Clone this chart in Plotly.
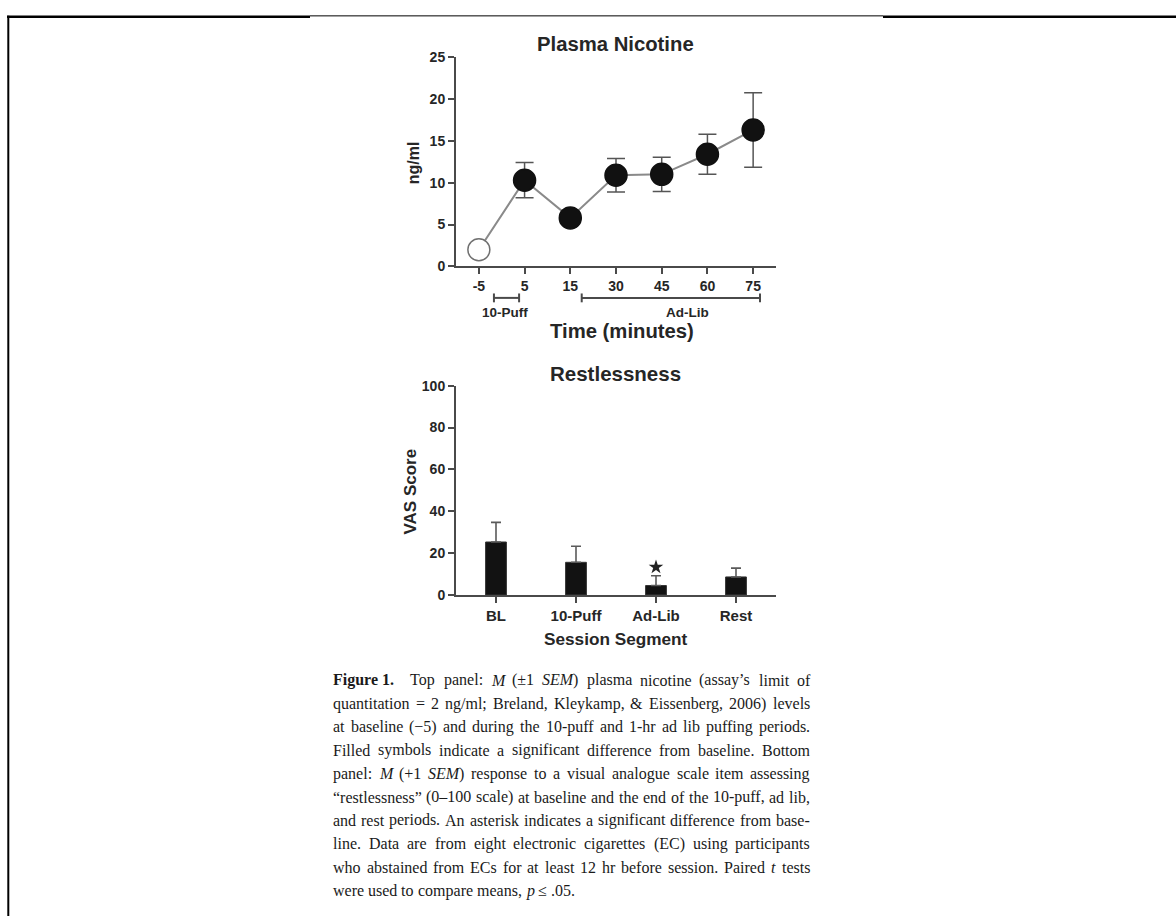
import re
import plotly.graph_objects as go

# ---------------- data ----------------
time_labels = ["-5", "5", "15", "30", "45", "60", "75"]
nicotine_mean = [2.0, 10.3, 5.8, 10.9, 11.0, 13.4, 16.3]
nicotine_sem = [0.0, 2.1, 0.5, 2.0, 2.05, 2.4, 4.45]
nicotine_signif = [False, True, True, True, True, True, True]

period_names = ["10-Puff", "Ad-Lib"]
period_start = [0.33, 2.25]   # in time-axis category units
period_end = [0.88, 6.15]

segments = ["BL", "10-Puff", "Ad-Lib", "Rest"]
vas_mean = [25.3, 15.6, 4.5, 8.6]
vas_sem = [9.4, 7.7, 4.7, 4.2]
vas_signif = [False, False, True, False]

caption_lines = [
    "<b>Figure\u00a01.</b>\u2003Top panel: <i>M</i> (±1 <i>SEM</i>) plasma nicotine (assay’s limit of",
    "quantitation = 2 ng/ml; Breland, Kleykamp, & Eissenberg, 2006) levels",
    "at baseline (−5) and during the 10-puff and 1-hr ad lib puffing periods.",
    "Filled symbols indicate a significant difference from baseline. Bottom",
    "panel: <i>M</i> (+1 <i>SEM</i>) response to a visual analogue scale item assessing",
    "“restlessness” (0–100 scale) at baseline and the end of the 10-puff, ad lib,",
    "and rest periods. An asterisk indicates a significant difference from base-",
    "line. Data are from eight electronic cigarettes (EC) using participants",
    "who abstained from ECs for at least 12 hr before session. Paired <i>t</i> tests",
    "were used to compare means, <i>p</i> ≤ .05.",
]

# ---------------- layout helpers ----------------
W, H = 1176, 924


def px(x):
    return x / W


def py(y):
    return 1 - y / H


SANS = "Liberation Sans, Arial, sans-serif"
SERIF = "Liberation Serif, Times New Roman, serif"
TXT = "#262626"
AX = "#4a4a4a"

fig = go.Figure()

# top panel: line + error bars
fig.add_trace(go.Scatter(
    x=time_labels, y=nicotine_mean, mode="lines",
    line=dict(color="#8a8a8a", width=2),
    error_y=dict(type="data", array=nicotine_sem, visible=True,
                 color="#555555", thickness=1.5, width=9),
    xaxis="x", yaxis="y", hoverinfo="skip",
))
fig.add_trace(go.Scatter(
    x=time_labels, y=nicotine_mean, mode="markers",
    marker=dict(size=22,
                color=["#111111" if s else "#ffffff" for s in nicotine_signif],
                line=dict(color=["#111111" if s else "#707070" for s in nicotine_signif],
                          width=1.5)),
    xaxis="x", yaxis="y",
))

# bottom panel: bars
fig.add_trace(go.Bar(
    x=segments, y=vas_mean, width=0.26,
    marker=dict(color="#121212", line=dict(color="#333333", width=1)),
    error_y=dict(type="data", symmetric=False, array=vas_sem,
                 arrayminus=[0] * len(vas_sem), visible=True,
                 color="#5a5a5a", thickness=1.6, width=5),
    xaxis="x2", yaxis="y2",
))
star_x = [s for s, f in zip(segments, vas_signif) if f]
star_y = [m + e + 4.1 for m, e, f in zip(vas_mean, vas_sem, vas_signif) if f]
fig.add_trace(go.Scatter(
    x=star_x, y=star_y, mode="markers",
    marker=dict(symbol="star", size=11, color="#222222"),
    xaxis="x2", yaxis="y2",
))

axis_common = dict(
    showline=True, linecolor=AX, linewidth=2, mirror=False,
    ticks="outside", ticklen=6, tickwidth=2, tickcolor=AX,
    showgrid=False, zeroline=False,
    tickfont=dict(family=SANS, size=14, color=TXT, weight="bold"),
)

fig.update_layout(
    width=W, height=H,
    margin=dict(l=0, r=0, t=0, b=0),
    paper_bgcolor="white", plot_bgcolor="white",
    showlegend=False,
    xaxis=dict(domain=[px(456), px(776)], anchor="y", type="category",
               categoryorder="array", categoryarray=time_labels,
               range=[-0.5, len(time_labels) - 0.5], **axis_common),
    yaxis=dict(domain=[py(263), py(50)], anchor="x", range=[0, 25],
               tickvals=[0, 5, 10, 15, 20, 25], **axis_common),
    xaxis2=dict(domain=[px(456), px(776)], anchor="y2", type="category",
                categoryorder="array", categoryarray=segments,
                range=[-0.5, len(segments) - 0.5], **axis_common),
    yaxis2=dict(domain=[py(597.3), py(384.3)], anchor="x2", range=[0, 100],
                tickvals=[0, 20, 40, 60, 80, 100], **axis_common),
)
fig.layout.xaxis2.tickfont.size = 15

annotations = []


def label(text, x, y, size, rot=0, bold=True, xanchor="center", family=SANS):
    annotations.append(dict(
        text=text, x=px(x), y=py(y), xref="paper", yref="paper",
        xanchor=xanchor, yanchor="middle", showarrow=False, textangle=rot,
        font=dict(family=family, size=size, color=TXT,
                  weight="bold" if bold else "normal"),
    ))


label("Plasma Nicotine", 615, 37, 20.3)
label("ng/ml", 413, 157, 16, rot=-90)
label("Time (minutes)", 622, 329, 20.3)
label("Restlessness", 615, 372, 20.5)
label("VAS Score", 410, 492, 17, rot=-90)
label("Session Segment", 616, 642, 17.2)

# period brackets under the time axis
shapes = []
label_x_px = [505, 687]
for name, s, e, lx in zip(period_names, period_start, period_end, label_x_px):
    shapes.append(dict(type="line", xref="x", yref="paper", x0=s, x1=e,
                       y0=py(295), y1=py(295), line=dict(color=AX, width=2)))
    for xe in (s, e):
        shapes.append(dict(type="line", xref="x", yref="paper", x0=xe, x1=xe,
                           y0=py(290.5), y1=py(299.5), line=dict(color=AX, width=2)))
    label(name, lx, 310, 13.5)

# ---------------- justified caption ----------------
ROMAN = {" ": 250, "\u00a0": 250, "\u2003": 1000, "!": 333, "(": 333, ")": 333,
         "+": 564, ",": 250, "-": 333, ".": 250, "/": 278, ":": 278, ";": 278,
         "=": 564, "&": 778, "±": 564, "’": 333, "“": 444, "”": 444, "–": 500,
         "−": 564, "≤": 549,
         "A": 722, "B": 667, "C": 667, "D": 722, "E": 611, "F": 556, "G": 722,
         "H": 722, "I": 333, "J": 389, "K": 722, "L": 611, "M": 889, "N": 722,
         "O": 722, "P": 556, "Q": 722, "R": 667, "S": 556, "T": 611, "U": 722,
         "V": 722, "W": 944, "X": 722, "Y": 722, "Z": 611,
         "a": 444, "b": 500, "c": 444, "d": 500, "e": 444, "f": 333, "g": 500,
         "h": 500, "i": 278, "j": 278, "k": 500, "l": 278, "m": 778, "n": 500,
         "o": 500, "p": 500, "q": 500, "r": 333, "s": 389, "t": 278, "u": 500,
         "v": 500, "w": 722, "x": 500, "y": 500, "z": 444}
BOLD = {"F": 611, "i": 278, "g": 500, "u": 556, "r": 444, "e": 444, "1": 500,
        ".": 250, "\u00a0": 250}
ITAL = {"M": 833, "S": 500, "E": 611, "t": 278, "p": 500}


def word_width(tok, size):
    bold = ital = False
    total = 0
    for part in re.split(r"(</?[bi]>)", tok):
        if part in ("<b>", "</b>", "<i>", "</i>"):
            if part[1] == "/":
                if part[2] == "b":
                    bold = False
                else:
                    ital = False
            elif part[1] == "b":
                bold = True
            else:
                ital = True
            continue
        for ch in part:
            if ch.isdigit():
                w = 500
            elif bold and ch in BOLD:
                w = BOLD[ch]
            elif ital and ch in ITAL:
                w = ITAL[ch]
            else:
                w = ROMAN.get(ch, 500)
            total += w
    return total * size / 1000.0


CAP_SIZE = 16
CAP_LEFT, CAP_RIGHT = 333, 810
CAP_TOP, CAP_STEP = 684, 23.8
for i, line in enumerate(caption_lines):
    words = line.split(" ")
    widths = [word_width(w, CAP_SIZE) for w in words]
    space = 250 * CAP_SIZE / 1000.0
    if i < len(caption_lines) - 1 and len(words) > 1:
        gap = (CAP_RIGHT - CAP_LEFT - sum(widths)) / (len(words) - 1)
    else:
        gap = space
    xcur = CAP_LEFT
    for w, wd in zip(words, widths):
        annotations.append(dict(
            text=w, x=px(xcur), y=py(CAP_TOP + i * CAP_STEP),
            xref="paper", yref="paper", xanchor="left", yanchor="middle",
            showarrow=False, borderpad=0, borderwidth=0,
            font=dict(family=SERIF, size=CAP_SIZE, color="#1a1a1a"),
        ))
        xcur += wd + gap

# page frame lines
frame = [
    (8.3, 8, 8.3, 924, 2),
    (7, 9, 310, 9, 2.5),
    (310, 8, 883, 8, 1),
    (883, 9, 1176, 9, 2.5),
]
for x0, y0, x1, y1, w in frame:
    shapes.append(dict(type="line", xref="paper", yref="paper",
                       x0=px(x0), y0=py(y0), x1=px(x1), y1=py(y1),
                       line=dict(color="black", width=w)))

fig.update_layout(annotations=annotations, shapes=shapes)

# pin the figure to the top-left corner of the page (no body margin)
pin = ("document.body.style.margin='0';"
       "var d=document.getElementById('{plot_id}');"
       "d.style.position='fixed';d.style.left='0px';d.style.top='0px';")
fig.write_html("out.html", post_script=pin,
               config={"displayModeBar": False})
